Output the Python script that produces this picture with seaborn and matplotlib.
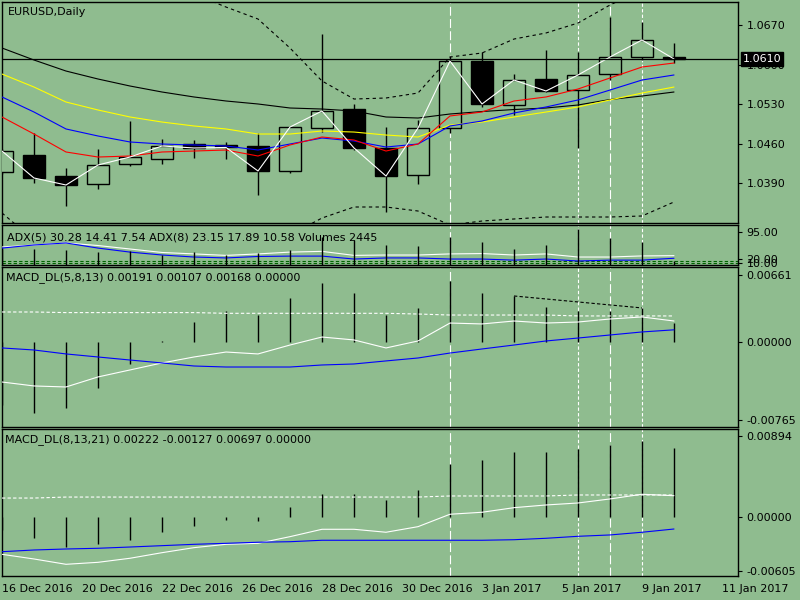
import numpy as np
import seaborn as sns
import matplotlib.pyplot as plt
import matplotlib.transforms as mtransforms

BG = "#8FBC8F"

# ---- price data (daily candles) ----
bars = np.arange(22)
open_ = [1.04100, 1.04401, 1.04029, 1.03888, 1.04242, 1.04330, 1.04595, 1.04578, 1.04560, 1.04118, 1.04878,
         1.05214, 1.04525, 1.04047, 1.04878, 1.06063, 1.05285, 1.05745, 1.05550, 1.05833, 1.06134, 1.06134]
high = [1.04507, 1.04790, 1.04171, 1.04507, 1.05002, 1.04684, 1.04666, 1.04631, 1.04790, 1.04914, 1.06541,
        1.05303, 1.04896, 1.05020, 1.06152, 1.06222, 1.05833, 1.06258, 1.06222, 1.06841, 1.06753, 1.06382]
low = [1.04065, 1.03906, 1.03499, 1.03799, 1.04206, 1.04242, 1.04348, 1.04330, 1.03693, 1.04082, 1.04808,
       1.04489, 1.03393, 1.03888, 1.04790, 1.05250, 1.05108, 1.05515, 1.04525, 1.05727, 1.06081, 1.06028]
close = [1.04471, 1.03994, 1.03870, 1.04224, 1.04365, 1.04560, 1.04525, 1.04534, 1.04118, 1.04896, 1.05179,
         1.04525, 1.04029, 1.04878, 1.06063, 1.05303, 1.05727, 1.05533, 1.05816, 1.06134, 1.06435, 1.06099]
last_price = 1.0610

# moving averages and bands
ma_black = [1.06293, 1.06081, 1.05886, 1.05745, 1.05621, 1.05515, 1.05427, 1.05356, 1.05303, 1.05232, 1.05214,
            1.05179, 1.05073, 1.05055, 1.05126, 1.05170, 1.05205, 1.05232, 1.05285, 1.05382, 1.05444, 1.05515]
ma_yellow = [1.05833, 1.05603, 1.05338, 1.05197, 1.05073, 1.04984, 1.04914, 1.04861, 1.04772, 1.04772, 1.04825,
             1.04807, 1.04754, 1.04719, 1.04931, 1.04984, 1.05073, 1.05161, 1.05250, 1.05374, 1.05497, 1.05603]
ma_blue = [1.05427, 1.05161, 1.04861, 1.04737, 1.04631, 1.04595, 1.04578, 1.04560, 1.04489, 1.04595, 1.04701,
           1.04648, 1.04542, 1.04595, 1.04914, 1.05002, 1.05144, 1.05250, 1.05374, 1.05550, 1.05727, 1.05816]
ma_red = [1.05073, 1.04772, 1.04454, 1.04365, 1.04383, 1.04454, 1.04471, 1.04489, 1.04383, 1.04578, 1.04719,
          1.04666, 1.04471, 1.04595, 1.05091, 1.05161, 1.05356, 1.05427, 1.05568, 1.05763, 1.05957, 1.06028]
band_up = [1.07779, 1.07814, 1.07814, 1.07761, 1.07637, 1.07461, 1.07248, 1.07018, 1.06806, 1.06293, 1.05710,
           1.05391, 1.05409, 1.05497, 1.06134, 1.06205, 1.06452, 1.06559, 1.06735, 1.07054, 1.07319, 1.07531]
band_dn = [1.03375, 1.02897, 1.02720, 1.02632, 1.02597, 1.02614, 1.02667, 1.02756, 1.02862, 1.02986, 1.03286,
           1.03481, 1.03481, 1.03410, 1.03163, 1.03233, 1.03269, 1.03304, 1.03304, 1.03304, 1.03322, 1.03570]

# ---- ADX / volumes ----
adx5 = [54, 59.5, 65, 58, 48.5, 39, 35, 31, 35, 40, 42, 31, 32, 32, 35, 36, 32, 35, 26.5, 26.5, 29.5, 30.28]
adx8 = [51, 59.5, 65, 51, 40, 32, 26.5, 24, 28, 29, 29, 21, 24, 24, 21, 21, 18, 21, 15.6, 18, 18, 23.15]
adx_levels = [10, 15]
volumes = [9000, 9450, 8700, 7570, 8140, 5860, 7570, 5860, 7000, 8700, 16100, 14400, 11550, 10980, 16100,
           13260, 9280, 11550, 20650, 15530, 13260, 2445]

# ---- MACD_DL(5,8,13) ----
macd1_hist = [-0.00620, -0.00701, -0.00651, -0.00454, -0.00217, 0.00010, 0.00197, 0.00306, 0.00266, 0.00434,
              0.00582, 0.00484, 0.00266, 0.00336, 0.00602, 0.00484, 0.00454, 0.00345, 0.00306, 0.00306, 0.00336,
              0.00191]
macd1_white = [-0.00395, -0.00434, -0.00444, -0.00345, -0.00276, -0.00207, -0.00148, -0.00099, -0.00118, -0.00030,
               0.00049, 0.00020, -0.00059, 0.00010, 0.00187, 0.00178, 0.00207, 0.00187, 0.00197, 0.00227, 0.00247,
               0.00207]
macd1_blue = [-0.00059, -0.00079, -0.00118, -0.00148, -0.00178, -0.00207, -0.00237, -0.00247, -0.00247, -0.00247,
              -0.00227, -0.00217, -0.00187, -0.00158, -0.00109, -0.00069, -0.00030, 0.00010, 0.00039, 0.00069,
              0.00099, 0.00120]
macd1_dash = [0.00296, 0.00296, 0.00290, 0.00290, 0.00290, 0.00290, 0.00290, 0.00283, 0.00283, 0.00283, 0.00283,
              0.00283, 0.00283, 0.00276, 0.00266, 0.00266, 0.00266, 0.00266, 0.00257, 0.00257, 0.00257, 0.00257]
divergence_bars = [16, 20]

# ---- MACD_DL(8,13,21) ----
macd2_hist = [-0.00150, -0.00233, -0.00333, -0.00307, -0.00259, -0.00167, -0.00100, -0.00037, -0.00048, 0.00111,
              0.00252, 0.00252, 0.00186, 0.00297, 0.00586, 0.00633, 0.00722, 0.00722, 0.00752, 0.00797, 0.00844,
              0.00763]
macd2_white = [-0.00418, -0.00470, -0.00529, -0.00507, -0.00462, -0.00400, -0.00344, -0.00307, -0.00296, -0.00222,
               -0.00140, -0.00140, -0.00173, -0.00111, 0.00027, 0.00049, 0.00100, 0.00130, 0.00152, 0.00197,
               0.00249, 0.00233]
macd2_blue = [-0.00389, -0.00370, -0.00359, -0.00351, -0.00337, -0.00322, -0.00307, -0.00296, -0.00284, -0.00278,
              -0.00262, -0.00262, -0.00262, -0.00262, -0.00262, -0.00262, -0.00256, -0.00240, -0.00218, -0.00203,
              -0.00173, -0.00137]
macd2_dash = [0.00207, 0.00207] + [0.00218] * 12 + [0.00230] * 4 + [0.00241] * 4

# vertical separators and time axis
vlines_long = [14, 19]
vlines_short = [18, 20]
date_ticks = [0, 2.5, 5, 7.5, 10, 12.5, 15, 17.5, 20, 22.5]
date_labels = ["16 Dec 2016", "20 Dec 2016", "22 Dec 2016", "26 Dec 2016", "28 Dec 2016",
               "30 Dec 2016", "3 Jan 2017", "5 Jan 2017", "9 Jan 2017", "11 Jan 2017"]

sns.set_style("white")
plt.rcParams['font.family'] = ['DejaVu Sans']
plt.rcParams['font.size'] = 8

fig = plt.figure(figsize=(8, 6), dpi=100, facecolor=BG)


def style_y(ax):
    ax.yaxis.tick_right()
    ax.yaxis.set_label_position("right")
    ax.tick_params(axis="y", direction="out", length=3, width=0.8, pad=3, colors="black", labelsize=8)
    ax.set_ylabel("")


def panel(y0, y1):
    ax = fig.add_axes([2 / 800, 1 - y1 / 600, 736 / 800, (y1 - y0) / 600])
    ax.set_facecolor(BG)
    ax.set_xlim(0, 23)
    for s in ax.spines.values():
        s.set_color("black")
        s.set_linewidth(1.0)
    style_y(ax)
    ax.set_xticks([])
    for b in vlines_long:
        ax.axvline(b, color="white", lw=0.8, ls=(0, (8, 3)), zorder=1)
    for b in vlines_short:
        ax.axvline(b, color="white", lw=0.8, ls=(0, (3, 2)), zorder=1)
    return ax


def line(ax, y, color, ls="-", lw=0.8, x=bars):
    sns.lineplot(x=x, y=y, ax=ax, color=color, lw=lw, linestyle=ls, estimator=None,
                 legend=False, zorder=4)


# ---------------- main price panel ----------------
ax = panel(2, 223)
ax.set_ylim(1.03198, 1.07107)
o, h, l, c = map(np.array, (open_, high, low, close))
ax.vlines(bars, l, h, color="black", lw=1.0, zorder=2)
bull = c >= o
ax.bar(bars[bull], (c - o)[bull], bottom=o[bull], width=0.7, color=BG, edgecolor="black", lw=1.0, zorder=3)
ax.bar(bars[~bull], (o - c)[~bull], bottom=c[~bull], width=0.7, color="black", edgecolor="black", lw=1.0, zorder=3)
line(ax, band_up, "black", ls=(0, (3, 3)))
line(ax, band_dn, "black", ls=(0, (3, 3)))
line(ax, ma_black, "black")
line(ax, ma_yellow, "#FFFF00")
line(ax, ma_blue, "#0000FF")
line(ax, ma_red, "#FF0000")
line(ax, close, "white")
ax.axhline(last_price, color="black", lw=0.9, zorder=5)
ax.set_yticks([1.0390, 1.0460, 1.0530, 1.0600, 1.0670])
ax.set_yticklabels(["1.0390", "1.0460", "1.0530", "1.0600", "1.0670"])
ax.set_ylabel("")
tr = mtransforms.blended_transform_factory(ax.transAxes, ax.transData)
ax.text(1.0065, last_price, f"{last_price:.4f}", transform=tr, ha="left", va="center", color="white",
        fontsize=8, zorder=20, clip_on=False,
        bbox=dict(boxstyle="square,pad=0.15", fc="black", ec="black"))
ax.text(6 / 736, 1 - 10 / 221, "EURUSD,Daily", transform=ax.transAxes, ha="left", va="center", color="black",
        fontsize=8)

# ---------------- ADX + volumes panel ----------------
ax2 = panel(225.3, 265.3)
ax2.set_ylim(3.84, 113.4)
for lev in adx_levels:
    ax2.axhline(lev, color="#006400", lw=0.8, ls=(0, (3, 2)), zorder=2)
line(ax2, adx5, "white")
line(ax2, adx8, "#0000FF")
ax2.set_yticks([10, 20, 95])
ax2.set_yticklabels(["10.00", "20.00", "95.00"])

# volumes share the window on their own scale
axv = ax2.twinx()
axv.set_ylim(0, 22760)
axv.set_yticks([])
axv.set_ylabel("")
for s in axv.spines.values():
    s.set_visible(False)
style_y(ax2)  # twinx moves host ticks to the left; put them back
axv.vlines(bars, 0, volumes, color="black", lw=1.0, zorder=2)
axv.text(5 / 736, 1 - 12 / 40, "ADX(5) 30.28 14.41 7.54 ADX(8) 23.15 17.89 10.58 Volumes 2445",
         transform=axv.transAxes, ha="left", va="center", color="black", fontsize=8, zorder=10)

# ---------------- MACD_DL(5,8,13) ----------------
ax3 = panel(267, 427)
ax3.set_ylim(-0.00839, 0.00740)
ax3.vlines(bars, 0, macd1_hist, color="black", lw=1.0, zorder=3)
line(ax3, macd1_dash, "white", ls=(0, (3, 2)))
line(ax3, macd1_white, "white")
line(ax3, macd1_blue, "#0000FF")
line(ax3, [macd1_hist[b] for b in divergence_bars], "black", ls=(0, (3, 2)), x=divergence_bars)
ax3.set_yticks([-0.00765, 0.0, 0.00661])
ax3.set_yticklabels(["-0.00765", "0.00000", "0.00661"])
ax3.set_ylabel("")
ax3.text(4 / 736, 1 - 11 / 160, "MACD_DL(5,8,13) 0.00191 0.00107 0.00168 0.00000",
         transform=ax3.transAxes, ha="left", va="center", color="black", fontsize=8)

# ---------------- MACD_DL(8,13,21) ----------------
ax4 = panel(429, 576)
ax4.set_ylim(-0.00659, 0.00974)
ax4.vlines(bars, 0, macd2_hist, color="black", lw=1.0, zorder=3)
line(ax4, macd2_dash, "white", ls=(0, (3, 2)))
line(ax4, macd2_white, "white")
line(ax4, macd2_blue, "#0000FF")
ax4.set_yticks([-0.00605, 0.0, 0.00894])
ax4.set_yticklabels(["-0.00605", "0.00000", "0.00894"])
ax4.set_ylabel("")
ax4.text(3 / 736, 1 - 11 / 147, "MACD_DL(8,13,21) 0.00222 -0.00127 0.00697 0.00000",
         transform=ax4.transAxes, ha="left", va="center", color="black", fontsize=8)
ax4.set_xticks(date_ticks)
ax4.set_xticklabels(date_labels, ha="left")
ax4.tick_params(axis="x", direction="out", length=4, width=0.8, pad=2, colors="black", labelsize=8)
ax4.set_xlabel("")

fig.savefig("out.png", dpi=100, facecolor=BG)
